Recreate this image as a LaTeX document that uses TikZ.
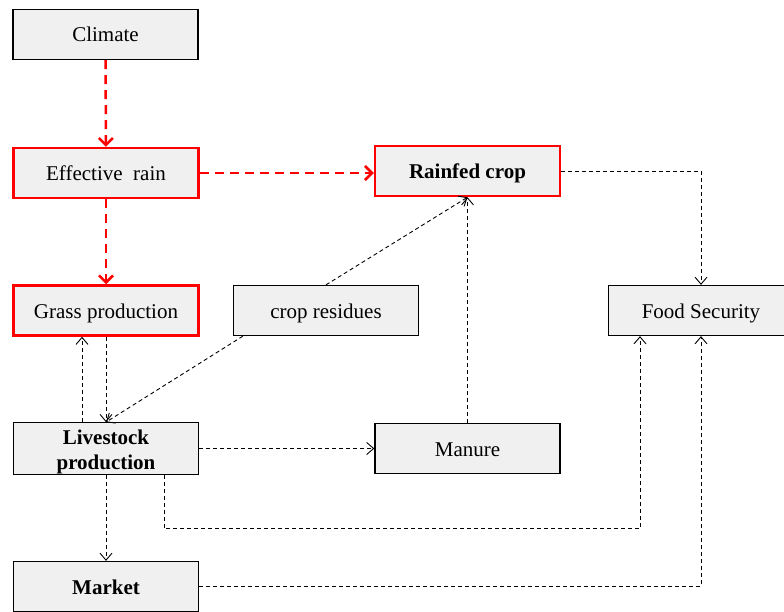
\documentclass[tikz,border=0pt]{standalone}
\usepackage{fontspec}
\setmainfont{Liberation Serif}
\usetikzlibrary{arrows.meta,calc}
\begin{document}
\begin{tikzpicture}[x=1pt,y=-1pt,
  box/.style={draw=black,line width=1.3pt,fill=boxfill,minimum width=185pt,minimum height=50pt,inner sep=0pt,align=center,font=\fontsize{21}{25}\selectfont,text height=15pt,text depth=0pt},
  twoline/.style={text height={},text depth={}},
  redbox/.style={box,draw=red,line width=2.5pt},
  blk/.style={draw=black,line width=0.9pt,dash pattern=on 4pt off 3pt,-{Straight Barb[length=7pt,width=12pt,line width=0.9pt]}},
  redl/.style={draw=red,line width=2.5pt,dash pattern=on 9pt off 6pt,-{Straight Barb[length=7pt,width=14pt,line width=2.5pt]}}]
\definecolor{boxfill}{HTML}{F0F0F0}
\useasboundingbox (0,0) rectangle (784,612);
\node[box] (cl) at (105.5,34.5) {Climate};
\node[redbox] (ef) at (106,173) {Effective\ \ rain};
\node[redbox] (rc) at (467.5,171) {\textbf{Rainfed crop}};
\node[redbox] (gp) at (106,310.5) {Grass production};
\node[box] (cr) at (326,310.5) {crop residues};
\node[box] (fs) at (701,310.5) {Food Security};
\node[box,twoline] (ls) at (106,448.5) {\rule{0pt}{22pt}\textbf{Livestock}\\\textbf{production}};
\node[box] (mn) at (467.5,448.5) {Manure};
\node[box] (mk) at (106,586.5) {\textbf{Market}};
% red connectors
\draw[redl] (cl) -- (ef);
\draw[redl] (ef.east) -- (ef.east -| rc.west);
\draw[redl] (ef) -- (gp);
% black connectors
\draw[blk] (rc.east) -| (fs.north);
\draw[blk] (cr.north) -- (rc.south);
\draw[blk] (mn.north) -- (rc.south);
\draw[blk] ([xshift=10pt]cr.south west) -- (ls.north);
\draw[blk] (gp) -- (ls);
\draw[blk] ([xshift=-24pt]ls.north) -- ([xshift=-24pt]gp.south);
\draw[blk] (ls.east) -- (mn.west);
\draw[blk] (ls) -- (mk);
\draw[blk] ([xshift=58pt]ls.south) -- ++(0,54) -| ([xshift=-61pt]fs.south);
\draw[blk] (mk.east) -| (fs.south);
\end{tikzpicture}
\end{document}
